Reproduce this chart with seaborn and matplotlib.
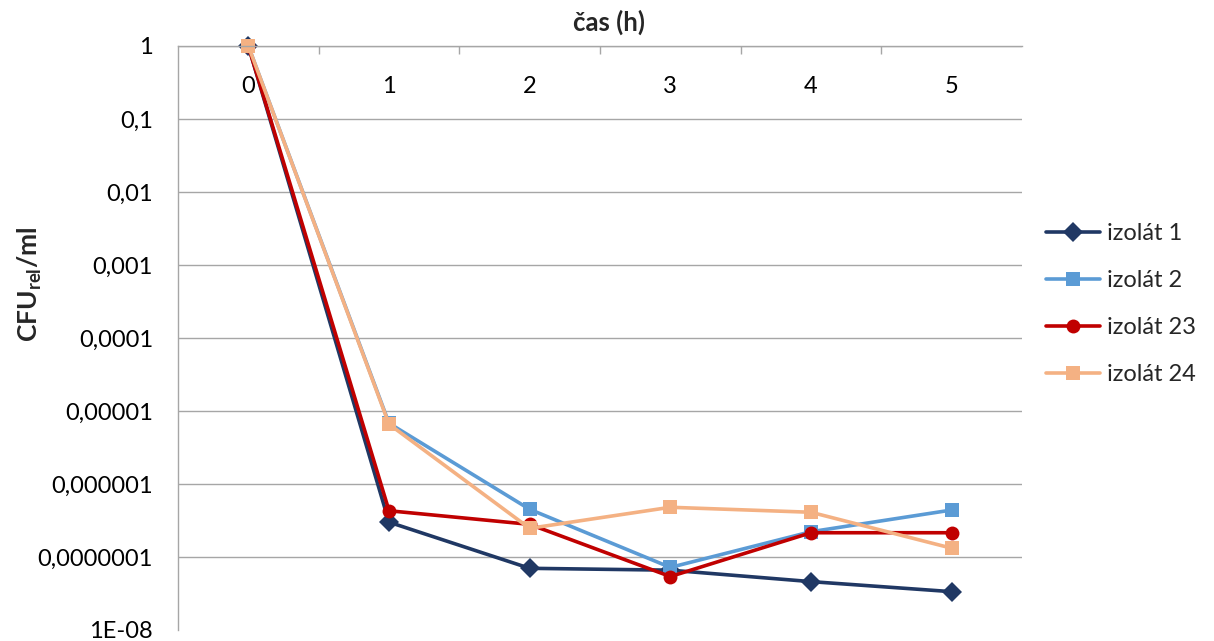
import numpy as np
import pandas as pd
import seaborn as sns
import matplotlib.pyplot as plt
from matplotlib.ticker import FixedLocator, FixedFormatter

# data
hours = [0, 1, 2, 3, 4, 5]
izolat_1 = [1.0, 3.0e-7, 7.0e-8, 6.6e-8, 4.6e-8, 3.35e-8]
izolat_2 = [1.0, 6.8e-6, 4.5e-7, 7.2e-8, 2.22e-7, 4.4e-7]
izolat_23 = [1.0, 4.3e-7, 2.8e-7, 5.4e-8, 2.15e-7, 2.15e-7]
izolat_24 = [1.0, 6.6e-6, 2.47e-7, 4.8e-7, 4.1e-7, 1.32e-7]

series_names = ['izolát 1', 'izolát 2', 'izolát 23', 'izolát 24']
colors = ['#203864', '#5B9BD5', '#C00000', '#F4B183']
marker_shapes = ['D', 's', 'o', 's']

y_ticks = [1e-8, 1e-7, 1e-6, 1e-5, 1e-4, 1e-3, 1e-2, 1e-1, 1]
y_tick_labels = ['1E-08', '0,0000001', '0,000001', '0,00001', '0,0001',
                 '0,001', '0,01', '0,1', '1']

rows = []
for name, vals in zip(series_names, [izolat_1, izolat_2, izolat_23, izolat_24]):
    for h, v in zip(hours, vals):
        rows.append({'cas': h, 'cfu': v, 'izolat': name})
df = pd.DataFrame(rows)

sns.set_style('white')
plt.rcParams['font.family'] = ['Lato', 'DejaVu Sans']
plt.rcParams['mathtext.fontset'] = 'custom'
plt.rcParams['mathtext.rm'] = 'Lato'
plt.rcParams['mathtext.bf'] = 'Lato:bold'

fig = plt.figure(figsize=(12.14, 6.41), dpi=100)
ax = fig.add_axes([178 / 1214, 1 - 630 / 641, 844 / 1214, 584 / 641])

sns.lineplot(data=df, x='cas', y='cfu', hue='izolat', style='izolat',
             palette=dict(zip(series_names, colors)),
             markers=dict(zip(series_names, marker_shapes)),
             dashes=False, linewidth=2.6, markersize=10,
             markeredgewidth=0, ax=ax)
for line in ax.lines:
    line.set_clip_on(False)

ax.set_yscale('log')
ax.set_ylim(1e-8, 1)
ax.set_xlim(-0.5, 5.5)
ax.yaxis.set_major_locator(FixedLocator(y_ticks))
ax.yaxis.set_major_formatter(FixedFormatter(y_tick_labels))
ax.yaxis.set_minor_locator(FixedLocator([]))

ax.set_xticks(hours)
ax.set_xticks([h + 0.5 for h in hours[:-1]], minor=True)
ax.xaxis.tick_top()
ax.tick_params(axis='x', which='major', length=0, labelsize=17, pad=-37,
               colors='black')
ax.tick_params(axis='x', which='minor', direction='in', length=6,
               width=1, color='#A6A6A6')
ax.tick_params(axis='y', which='major', direction='out', length=6, width=1,
               color='#A6A6A6', labelsize=17, pad=12, labelcolor='black')

ax.grid(axis='y', color='#A6A6A6', linewidth=1)
ax.get_ygridlines()[0].set_visible(False)
ax.set_xlabel('')
ax.set_ylabel('')

for side in ['right', 'bottom']:
    ax.spines[side].set_visible(False)
for side in ['left', 'top']:
    ax.spines[side].set_color('#A6A6A6')
    ax.spines[side].set_linewidth(1)

fig.text(609 / 1214, 1 - 22 / 641, 'čas (h)', ha='center', va='center',
         fontsize=18.5, fontweight='bold')
fig.text(30 / 1214, 1 - 284 / 641, r'CFU$_{\mathbf{rel}}$/ml', rotation=90,
         ha='center', va='center', fontsize=19, fontweight='bold')

sns.move_legend(ax, 'center left', bbox_to_anchor=(1046 / 1214, 1 - 304 / 641),
                bbox_transform=fig.transFigure, frameon=False, title=None,
                fontsize=17, handlelength=2.3, handletextpad=0.3,
                labelspacing=1.1, borderpad=0, borderaxespad=0)

fig.savefig('out.png', dpi=100)
